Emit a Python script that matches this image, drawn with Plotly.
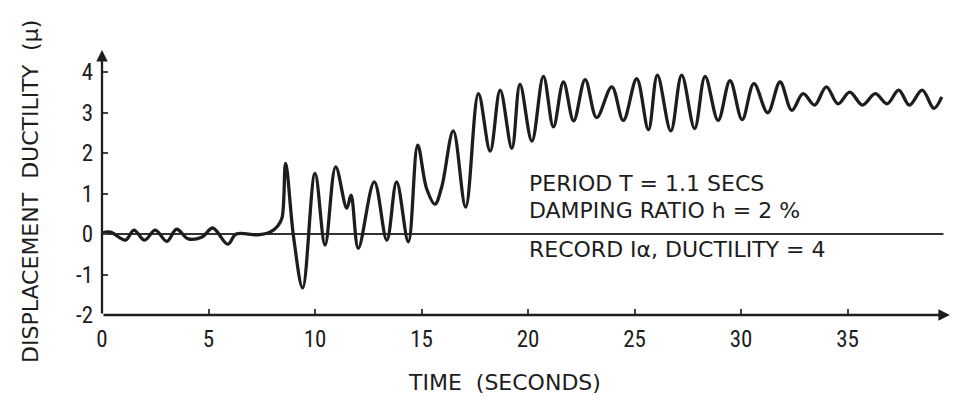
import plotly.graph_objects as go

# Time history of displacement ductility (peaks, troughs and turning points)
time_s = [
    0.0, 0.4, 1.1, 1.5, 2.0, 2.5, 3.05, 3.5, 4.05, 4.7, 5.2, 5.9, 6.3, 7.3, 7.9,
    8.25, 8.45, 8.62, 9.0, 9.42, 10.0, 10.47, 10.97, 11.49, 11.69, 12.03, 12.78,
    13.37, 13.83, 14.38, 14.82, 15.24, 15.63, 15.95, 16.49, 17.07, 17.67, 18.22,
    18.69, 19.24, 19.62, 20.18, 20.72, 21.19, 21.66, 22.14, 22.68, 23.22, 23.93,
    24.47, 25.1, 25.65, 26.07, 26.7, 27.21, 27.82, 28.31, 28.92, 29.48, 30.05,
    30.6, 31.25, 31.83, 32.38, 32.91, 33.45, 34.0, 34.55, 35.1, 35.7, 36.3,
    36.85, 37.4, 37.9, 38.5, 39.05, 39.42,
]
ductility = [
    0.03, 0.05, -0.15, 0.1, -0.15, 0.1, -0.18, 0.12, -0.12, -0.07, 0.15, -0.25,
    0.0, -0.02, 0.05, 0.2, 0.4, 1.75, -0.1, -1.33, 1.5, -0.27, 1.66, 0.64, 0.96,
    -0.35, 1.29, -0.15, 1.29, -0.19, 2.2, 1.12, 0.74, 1.17, 2.55, 0.67, 3.47,
    2.05, 3.56, 2.12, 3.7, 2.3, 3.9, 2.65, 3.76, 2.8, 3.82, 2.88, 3.64, 2.81,
    3.84, 2.58, 3.93, 2.55, 3.93, 2.61, 3.9, 2.81, 3.79, 2.83, 3.72, 3.0, 3.76,
    3.06, 3.47, 3.19, 3.64, 3.22, 3.51, 3.19, 3.47, 3.22, 3.56, 3.19, 3.56,
    3.11, 3.39,
]

x_ticks = [0, 5, 10, 15, 20, 25, 30, 35]
x_tick_labels = ["0", "5", "10", "15", "20", "25", "30", "35"]
y_ticks = [-2, -1, 0, 1, 2, 3, 4]
y_tick_labels = ["-2", "-1", "0", "1", "2", "3", "4"]

notes = ["PERIOD T = 1.1 SECS", "DAMPING RATIO h = 2 %", "RECORD Iα, DUCTILITY = 4"]
note_levels = [1.26, 0.59, -0.37]

ink = "#1d1d1d"
narrow = "Liberation Sans Narrow, Roboto Condensed, DejaVu Sans Condensed, Liberation Sans, sans-serif"
wide = "DejaVu Sans, Verdana, sans-serif"

fig = go.Figure()

# zero reference line
fig.add_shape(type="line", x0=0, x1=39.5, y0=0, y1=0,
              line=dict(color="#333333", width=2), layer="below")

fig.add_trace(go.Scatter(
    x=time_s, y=ductility, mode="lines",
    line=dict(color=ink, width=3.3, shape="spline", smoothing=1.0),
    cliponaxis=False, hoverinfo="skip", showlegend=False,
))

# axes with arrow heads
fig.add_annotation(x=39.8, y=-2, ax=0, ay=-2, xref="x", yref="y", axref="x", ayref="y",
                   text="", showarrow=True, arrowhead=2, arrowsize=1, arrowwidth=2.3,
                   arrowcolor=ink, standoff=0, startstandoff=0)
fig.add_annotation(x=0, y=4.55, ax=0, ay=-2, xref="x", yref="y", axref="x", ayref="y",
                   text="", showarrow=True, arrowhead=2, arrowsize=1, arrowwidth=2.3,
                   arrowcolor=ink, standoff=0, startstandoff=0)

for label, level in zip(notes, note_levels):
    fig.add_annotation(x=19.95, y=level, xref="x", yref="y", text=label,
                       showarrow=False, xanchor="left", yanchor="middle",
                       font=dict(family=wide, size=22, color=ink))

fig.add_annotation(x=18.9, y=-0.254, xref="x", yref="paper", text="TIME  (SECONDS)",
                   showarrow=False, xanchor="center", yanchor="middle",
                   font=dict(family=wide, size=22, color=ink))
fig.add_annotation(x=-0.085, y=1.06, xref="paper", yref="y",
                   text="DISPLACEMENT  DUCTILITY  (μ)", textangle=-90,
                   showarrow=False, xanchor="center", yanchor="middle",
                   font=dict(family=wide, size=22, color=ink))

fig.update_layout(
    width=956, height=403,
    margin=dict(l=102, r=4, t=48, b=88),
    paper_bgcolor="white", plot_bgcolor="white",
    showlegend=False,
    xaxis=dict(range=[0, 39.9], showgrid=False, zeroline=False, showline=False,
               tickvals=x_ticks, ticktext=x_tick_labels, ticks="inside",
               ticklen=6, tickwidth=1.5, tickcolor="#444444",
               tickfont=dict(family=narrow, size=23, color=ink),
               ticklabelstandoff=8, fixedrange=True),
    yaxis=dict(range=[-2, 4.6], showgrid=False, zeroline=False, showline=False,
               tickvals=y_ticks, ticktext=y_tick_labels, ticks="inside",
               ticklen=6, tickwidth=1.5, tickcolor="#444444",
               tickfont=dict(family=narrow, size=23, color=ink),
               ticklabelstandoff=8, fixedrange=True),
)

fig.write_html("out.html")
